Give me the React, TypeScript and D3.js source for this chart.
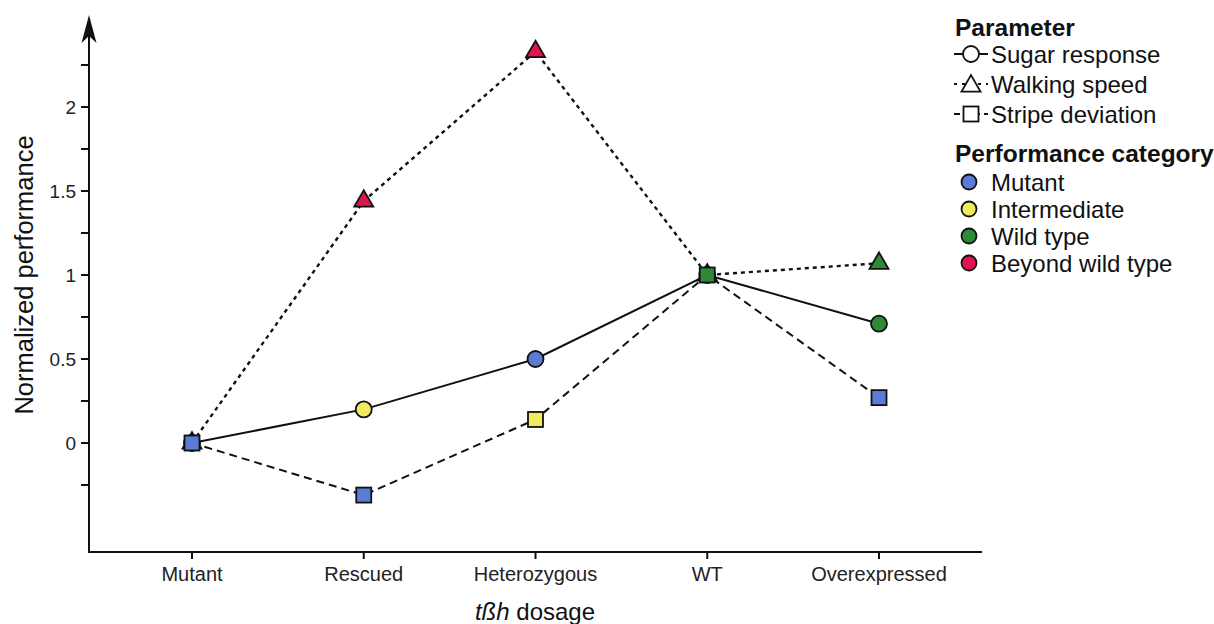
import React from "react";
import * as d3 from "d3";

const categories = ["Mutant", "Rescued", "Heterozygous", "WT", "Overexpressed"];
const sugarValues = [0, 0.2, 0.5, 1, 0.71];
const sugarCats = ["Mutant", "Intermediate", "Mutant", "Wild type", "Wild type"];
const walkingValues = [0, 1.44, 2.33, 1, 1.07];
const walkingCats = ["Mutant", "Beyond wild type", "Beyond wild type", "Wild type", "Wild type"];
const stripeValues = [0, -0.31, 0.14, 1, 0.27];
const stripeCats = ["Mutant", "Mutant", "Intermediate", "Wild type", "Mutant"];
const yTicks = [-0.25, 0, 0.25, 0.5, 0.75, 1, 1.25, 1.5, 1.75, 2, 2.25];
const yTickLabels = ["0", "0.5", "1", "1.5", "2"];
const perfCategories = ["Mutant", "Intermediate", "Wild type", "Beyond wild type"];
const perfColors = ["#5b7bd6", "#eeeb5c", "#2e8a39", "#e0154f"];
const paramNames = ["Sugar response", "Walking speed", "Stripe deviation"];

const FONT = "'Liberation Sans', Arial, Helvetica, sans-serif";

export default function App() {
  const W = 1214, H = 624;
  const axisX = 89, axisY = 552;
  const x = d3.scalePoint<string>().domain(categories).range([192, 879]);
  const y = d3.scaleLinear().domain([0, 2]).range([443, 107]);
  const color = d3.scaleOrdinal<string, string>().domain(perfCategories).range(perfColors);
  const line = d3.line<number>().x((_, i) => x(categories[i])!).y((v) => y(v));

  const tri = (cx: number, cy: number, s: number) => {
    const h = s * 0.866;
    return `M${cx},${cy - h * 0.6}L${cx + s / 2},${cy + h * 0.4}L${cx - s / 2},${cy + h * 0.4}Z`;
  };
  const marker = (shape: string, cx: number, cy: number, fill: string, key: string) => {
    if (shape === "circle") return <circle key={key} cx={cx} cy={cy} r={8} fill={fill} stroke="#111" strokeWidth={1.8} />;
    if (shape === "square") return <rect key={key} x={cx - 7.5} y={cy - 7.5} width={15} height={15} fill={fill} stroke="#111" strokeWidth={1.8} />;
    return <path key={key} d={tri(cx, cy, 19)} fill={fill} stroke="#111" strokeWidth={1.8} strokeLinejoin="miter" />;
  };

  const series = [
    { name: "walk", values: walkingValues, cats: walkingCats, shape: "triangle", dash: "4,4", w: 2.4 },
    { name: "sugar", values: sugarValues, cats: sugarCats, shape: "circle", dash: "", w: 2 },
    { name: "stripe", values: stripeValues, cats: stripeCats, shape: "square", dash: "8,5", w: 2 },
  ];

  const legendShapes = ["circle", "triangle", "square"];
  const legendDash = ["", "3,5", "6,4"];

  return (
    <svg width={W} height={H} style={{ position: "absolute", left: 0, top: 0, background: "#fff" }} fontFamily={FONT}>
      {series.map((s) => (
        <path key={s.name} d={line(s.values)!} fill="none" stroke="#111" strokeWidth={s.w} strokeDasharray={s.dash || undefined} />
      ))}
      {series.map((s) =>
        s.values.map((v, i) => marker(s.shape, x(categories[i])!, y(v) + (s.shape === "triangle" ? -1 : 0), color(s.cats[i]), s.name + i))
      )}
      {/* y axis */}
      <line x1={axisX} x2={axisX} y1={axisY} y2={30} stroke="#111" strokeWidth={2} />
      <path d={`M${axisX},15 L${axisX + 7.5},43 L${axisX},36 L${axisX - 7.5},43 Z`} fill="#111" />
      {yTicks.map((t) => (
        <line key={t} x1={axisX - 8} x2={axisX} y1={y(t)} y2={y(t)} stroke="#111" strokeWidth={2} />
      ))}
      {yTickLabels.map((t) => (
        <text key={t} x={76} y={y(+t)} textAnchor="end" dominantBaseline="central" fontSize={19} fill="#222">{t}</text>
      ))}
      <text transform={`translate(24,${y(0.5) - 84}) rotate(-90)`} textAnchor="middle" dominantBaseline="central" fontSize={25.5} fill="#111" x={0} y={0}>
        Normalized performance
      </text>
      {/* x axis */}
      <line x1={axisX - 1} x2={982} y1={axisY} y2={axisY} stroke="#111" strokeWidth={2} />
      {categories.map((c) => (
        <g key={c}>
          <line x1={x(c)!} x2={x(c)!} y1={axisY} y2={axisY + 7} stroke="#111" strokeWidth={2} />
          <text x={x(c)!} y={574} textAnchor="middle" dominantBaseline="central" fontSize={20} fill="#222">{c}</text>
        </g>
      ))}
      <text x={535} y={611} textAnchor="middle" dominantBaseline="central" fontSize={24} fill="#111">
        <tspan fontStyle="italic">tßh</tspan> dosage
      </text>
      {/* legend */}
      <text x={955} y={27} dominantBaseline="central" fontSize={24.5} fontWeight="bold" fill="#111">Parameter</text>
      {paramNames.map((p, i) => {
        const cy = 54 + i * 30;
        return (
          <g key={p}>
            <line x1={954} x2={988} y1={cy} y2={cy} stroke="#111" strokeWidth={1.8} strokeDasharray={legendDash[i] || undefined} />
            {marker(legendShapes[i], 971, cy + (legendShapes[i] === "triangle" ? 1 : 0), "#fff", "lg" + i)}
            <text x={991} y={cy} dominantBaseline="central" fontSize={24} fill="#111">{p}</text>
          </g>
        );
      })}
      <text x={955} y={153} dominantBaseline="central" fontSize={24.5} fontWeight="bold" fill="#111">Performance category</text>
      {perfCategories.map((c, i) => {
        const cy = 182 + i * 27;
        return (
          <g key={c}>
            <circle cx={969} cy={cy} r={7.5} fill={color(c)} stroke="#111" strokeWidth={1.8} />
            <text x={991} y={cy} dominantBaseline="central" fontSize={24} fill="#111">{c}</text>
          </g>
        );
      })}
    </svg>
  );
}
